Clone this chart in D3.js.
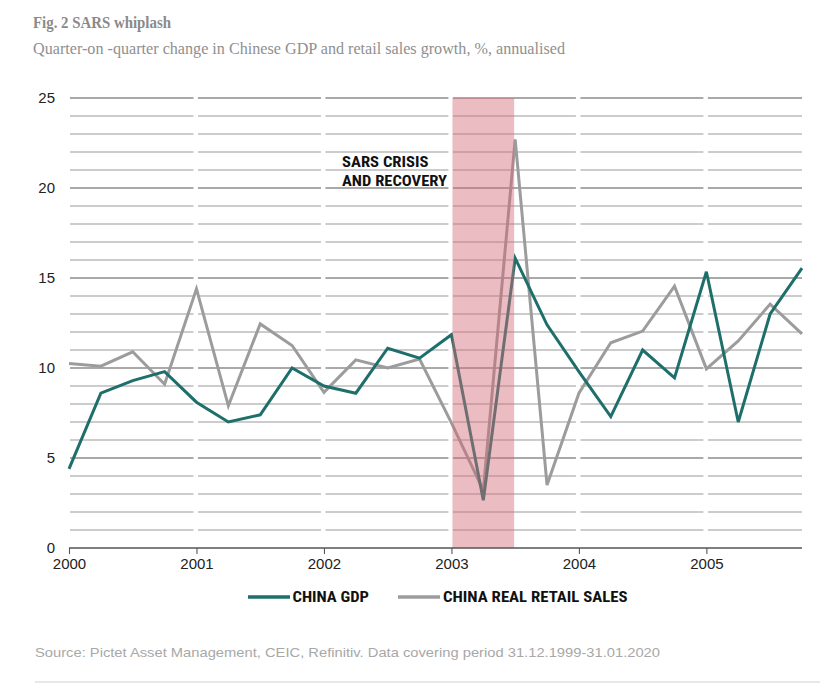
<!DOCTYPE html>
<html>
<head>
<meta charset="utf-8">
<script src="https://cdn.jsdelivr.net/npm/d3@7"></script>
<style>
  html, body { margin: 0; padding: 0; background: #fff; }
  svg { display: block; }
</style>
</head>
<body>
<svg id="chart" width="840" height="688"></svg>
<script>
// ---- data ----
const quarters = ["2000Q1","2000Q2","2000Q3","2000Q4","2001Q1","2001Q2","2001Q3","2001Q4",
                  "2002Q1","2002Q2","2002Q3","2002Q4","2003Q1","2003Q2","2003Q3","2003Q4",
                  "2004Q1","2004Q2","2004Q3","2004Q4","2005Q1","2005Q2","2005Q3","2005Q4"];
const chinaGDP = [4.4, 8.6, 9.3, 9.8, 8.1, 7.0, 7.4, 10.0,
                  9.0, 8.6, 11.1, 10.55, 11.85, 2.65, 16.1, 12.4,
                  9.8, 7.3, 11.0, 9.45, 15.35, 7.0, 13.0, 15.55];
const chinaRetail = [10.25, 10.1, 10.9, 9.1, 14.4, 7.9, 12.45, 11.25,
                     8.65, 10.45, 10.0, 10.5, 6.95, 3.2, 22.7, 3.5,
                     8.6, 11.4, 12.05, 14.55, 9.95, 11.5, 13.55, 11.9];
const yearTicks = [2000, 2001, 2002, 2003, 2004, 2005];
const yTicks = [0, 5, 10, 15, 20, 25];
const sarsPeriod = [2003.0, 2003.5];
const seriesNames = ["CHINA GDP", "CHINA REAL RETAIL SALES"];
const titleText = "Fig. 2 SARS whiplash";
const subtitleText = "Quarter-on -quarter change in Chinese GDP and retail sales growth, %, annualised";
const annotationLines = ["SARS CRISIS", "AND RECOVERY"];
const sourceText = "Source: Pictet Asset Management, CEIC, Refinitiv. Data covering period 31.12.1999-31.01.2020";

(function () {
// ---- helpers ----
const qToYear = q => +q.slice(0, 4) + (+q.slice(5) - 1) / 4;
const tVals = quarters.map(qToYear);

const svg = d3.select("#chart");
const pLeft = 69, pRight = 802, pTop = 98, pBottom = 548;

const x = d3.scaleLinear().domain([2000, 2005.75]).range([pLeft, pRight]);
const y = d3.scaleLinear().domain([0, 25]).range([pBottom, pTop]);

const colGDP = "#1e6f6b";
const colRetail = "#9c9c9c";
const sansNarrow = "'Liberation Sans Narrow', 'Roboto Condensed', 'Arial Narrow', 'Liberation Sans', sans-serif";

// ---- title ----
svg.append("text").attr("x", 33).attr("y", 28)
  .attr("font-family", "'Liberation Serif', 'DejaVu Serif', serif")
  .attr("font-weight", "bold").attr("font-size", 17.5).attr("fill", "#8a8a8a")
  .attr("textLength", 138).attr("lengthAdjust", "spacingAndGlyphs")
  .text(titleText);
svg.append("text").attr("x", 33).attr("y", 54)
  .attr("font-family", "'Liberation Serif', 'DejaVu Serif', serif")
  .attr("font-size", 16.5).attr("fill", "#8f8f8f")
  .attr("textLength", 532).attr("lengthAdjust", "spacingAndGlyphs")
  .text(subtitleText);

// ---- gridlines ----
const gridVals = d3.range(1, 26);
svg.append("g").selectAll("line").data(gridVals).join("line")
  .attr("x1", pLeft + 1).attr("x2", pRight)
  .attr("y1", d => y(d)).attr("y2", d => y(d))
  .attr("stroke", d => d % 5 === 0 ? "#555" : "#9a9a9a")
  .attr("stroke-width", 1.1);

// white gaps at year boundaries
svg.append("g").selectAll("rect").data(yearTicks.slice(1)).join("rect")
  .attr("x", d => x(d) - 3).attr("width", 4.5)
  .attr("y", y(25) - 2).attr("height", y(0) - y(25) + 0.5)
  .attr("fill", "#fff");

// ---- y labels ----
svg.append("g").selectAll("text").data(yTicks).join("text")
  .attr("x", 55).attr("y", d => y(d)).attr("dy", "0.36em")
  .attr("text-anchor", "end")
  .attr("font-family", "'Liberation Sans', Arial, sans-serif")
  .attr("font-size", 15).attr("fill", "#222")
  .text(d => d);

// ---- lines ----
const line = d3.line().x((d, i) => x(tVals[i])).y(d => y(d));
svg.append("path").datum(chinaRetail).attr("d", line)
  .attr("fill", "none").attr("stroke", colRetail).attr("stroke-width", 3)
  .attr("stroke-linejoin", "miter");
svg.append("path").datum(chinaGDP).attr("d", line)
  .attr("fill", "none").attr("stroke", colGDP).attr("stroke-width", 3)
  .attr("stroke-linejoin", "miter");

// ---- SARS shading ----
svg.append("rect")
  .attr("x", x(sarsPeriod[0]) + 1).attr("width", x(sarsPeriod[1]) - x(sarsPeriod[0]) - 2)
  .attr("y", y(25)).attr("height", y(0) - y(25))
  .attr("fill", "#d26c77").attr("fill-opacity", 0.45);

// annotation
const annW = [86.5, 105];
svg.append("g").selectAll("text").data(annotationLines).join("text")
  .attr("x", 342).attr("y", (d, i) => 167 + i * 18.5)
  .attr("font-family", sansNarrow).attr("font-weight", "bold")
  .attr("font-size", 15.5).attr("fill", "#111")
  .attr("textLength", (d, i) => annW[i]).attr("lengthAdjust", "spacingAndGlyphs")
  .text(d => d);

// ---- x axis ----
const xAxis = d3.axisBottom(x).tickValues(yearTicks).tickFormat(d3.format("d"))
  .tickSize(6).tickPadding(4);
const gx = svg.append("g").attr("transform", `translate(0,${pBottom})`).call(xAxis);
gx.select(".domain").attr("stroke", "#555").attr("stroke-width", 1.3)
  .attr("d", `M${pLeft},0H${pRight}`);
gx.selectAll(".tick line").attr("stroke", "#555").attr("stroke-width", 1.1);
gx.selectAll(".tick text")
  .attr("font-family", "'Liberation Sans', Arial, sans-serif")
  .attr("font-size", 15).attr("fill", "#222");

// ---- legend ----
const legendItems = [
  { name: seriesNames[0], color: colGDP, x0: 248, x1: 290, tx: 292.5, w: 76.5 },
  { name: seriesNames[1], color: colRetail, x0: 398, x1: 440, tx: 443, w: 184.5 }
];
const lg = svg.append("g");
legendItems.forEach(it => {
  lg.append("line").attr("x1", it.x0).attr("x2", it.x1).attr("y1", 597).attr("y2", 597)
    .attr("stroke", it.color).attr("stroke-width", 3.5);
  lg.append("text").attr("x", it.tx).attr("y", 602)
    .attr("font-family", sansNarrow).attr("font-weight", "bold")
    .attr("font-size", 15).attr("fill", "#111")
    .attr("textLength", it.w).attr("lengthAdjust", "spacingAndGlyphs")
    .text(it.name);
});

// ---- source ----
svg.append("text").attr("x", 35).attr("y", 657)
  .attr("font-family", "'Liberation Sans', Arial, sans-serif")
  .attr("font-size", 13.5).attr("fill", "#a8a8a8")
  .attr("textLength", 625).attr("lengthAdjust", "spacingAndGlyphs")
  .text(sourceText);

svg.append("line").attr("x1", 35).attr("x2", 820).attr("y1", 682).attr("y2", 682)
  .attr("stroke", "#d0d0d0").attr("stroke-width", 1);
})();
</script>
</body>
</html>
